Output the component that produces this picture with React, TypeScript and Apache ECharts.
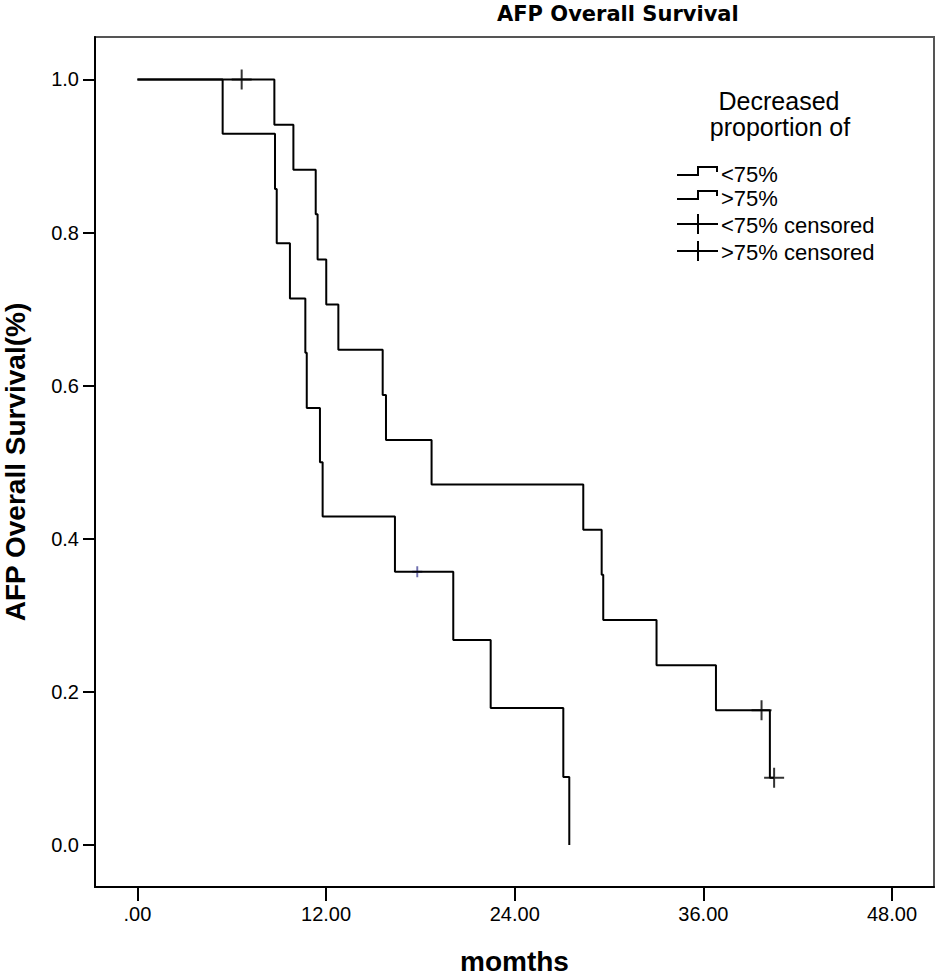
import React, { useEffect, useRef } from "react";
import * as echarts from "echarts";

// Kaplan-Meier curves
const lowerTimes = [0, 5.42, 8.75, 8.86, 9.7, 10.68, 10.77, 11.61, 11.78, 16.38, 20.09, 22.47, 27.09, 27.47];
const lowerSurv = [1, 0.929, 0.857, 0.786, 0.714, 0.643, 0.571, 0.5, 0.429, 0.357, 0.268, 0.179, 0.089, 0];

const upperTimes = [0, 8.71, 9.92, 11.34, 11.46, 12.01, 12.78, 15.6, 15.81, 18.71, 28.36, 29.53, 29.63, 33.02, 36.8, 40.23, 40.5];
const upperSurv = [1, 0.941, 0.882, 0.824, 0.765, 0.706, 0.647, 0.588, 0.529, 0.471, 0.412, 0.353, 0.294, 0.235, 0.176, 0.088, 0.088];

const upperCensorTimes = [6.63, 39.7, 40.5];
const upperCensorSurv = [1.0, 0.176, 0.088];
const lowerCensorTimes = [17.8];
const lowerCensorSurv = [0.357];

const xTicks = [0, 12, 24, 36, 48];
const yTicks = [0, 0.2, 0.4, 0.6, 0.8, 1.0];
const legendTitle = ["Decreased", "proportion of"];
const legendItems = ["<75%", ">75%", "<75% censored", ">75% censored"];

const zip = (a: number[], b: number[]) => a.map((v, i) => [v, b[i]]);

const PLUS = "path://M0 10L20 10M10 0L10 20";

export default function App() {
  const ref = useRef<HTMLDivElement>(null);
  useEffect(() => {
    if (!ref.current) return;
    const chart = echarts.init(ref.current, undefined, { renderer: "svg" });
    const legendText = {
      fontFamily: "Liberation Sans, Arial, sans-serif",
      fontSize: 22,
      fill: "#000",
    };
    const stepIcon = (y: number) => ({
      type: "polyline",
      shape: { points: [[677, y + 2], [698, y + 2], [698, y - 6], [717, y - 6], [717, y - 1]] },
      style: { stroke: "#000", lineWidth: 2, fill: null },
    });
    const censorIcon = (y: number) => ({
      type: "group",
      children: [
        { type: "line", shape: { x1: 677, y1: y, x2: 718, y2: y }, style: { stroke: "#000", lineWidth: 2 } },
        { type: "line", shape: { x1: 698, y1: y - 10, x2: 698, y2: y + 10 }, style: { stroke: "#000", lineWidth: 2 } },
      ],
    });
    const rowY = [173, 197, 224, 251];
    const graphics: any[] = [
      { type: "text", x: 779, y: 101, style: { ...legendText, text: legendTitle[0], fontSize: 25, textAlign: "center", textVerticalAlign: "middle" } },
      { type: "text", x: 780, y: 127, style: { ...legendText, text: legendTitle[1], fontSize: 25, textAlign: "center", textVerticalAlign: "middle" } },
      stepIcon(rowY[0]),
      stepIcon(rowY[1]),
      censorIcon(rowY[2]),
      censorIcon(rowY[3]),
      ...legendItems.map((t, i) => ({
        type: "text",
        x: 721,
        y: rowY[i] + 1,
        style: { ...legendText, text: t, textAlign: "left", textVerticalAlign: "middle" },
      })),
    ];
    chart.setOption({
      animation: false,
      backgroundColor: "#fff",
      title: {
        text: "AFP Overall Survival",
        left: 497,
        top: 3,
        padding: 0,
        textStyle: { fontFamily: "DejaVu Sans, Arial, sans-serif", fontWeight: "bold", fontSize: 21, color: "#000" },
      },
      grid: {
        left: 95,
        right: 11,
        top: 37,
        bottom: 91,
        outerBoundsMode: "none",
        containLabel: false,
        show: true,
        borderColor: "#555",
        borderWidth: 2,
        backgroundColor: "#fff",
      },
      xAxis: {
        type: "value",
        min: -2.7,
        max: 50.67,
        name: "momths",
        nameLocation: "middle",
        nameGap: 60,
        nameTextStyle: { fontFamily: "Liberation Sans, Arial, sans-serif", fontWeight: "bold", fontSize: 28, color: "#000" },
        axisLine: { show: true, onZero: false, lineStyle: { color: "#000", width: 2 } },
        axisTick: { show: true, length: 14, customValues: xTicks, lineStyle: { color: "#000", width: 2 } },
        axisLabel: {
          customValues: xTicks,
          margin: 17,
          fontFamily: "Liberation Sans, Arial, sans-serif",
          fontSize: 20,
          color: "#000",
          formatter: (v: number) => (v === 0 ? ".00" : v.toFixed(2)),
        },
        splitLine: { show: false },
      },
      yAxis: {
        type: "value",
        min: -0.0548,
        max: 1.0555,
        name: "AFP Overall Survival(%)",
        nameLocation: "middle",
        nameGap: 66,
        nameTextStyle: { fontFamily: "Liberation Sans, Arial, sans-serif", fontWeight: "bold", fontSize: 28, color: "#000" },
        axisLine: { show: true, onZero: false, lineStyle: { color: "#000", width: 2 } },
        axisTick: { show: true, length: 12, customValues: yTicks, lineStyle: { color: "#000", width: 2 } },
        axisLabel: {
          customValues: yTicks,
          margin: 16,
          fontFamily: "Liberation Sans, Arial, sans-serif",
          fontSize: 20,
          color: "#000",
          formatter: (v: number) => v.toFixed(1),
        },
        splitLine: { show: false },
      },
      series: [
        {
          name: "<75%",
          type: "line",
          step: "end",
          data: zip(upperTimes, upperSurv),
          symbol: "none",
          lineStyle: { color: "#000", width: 2 },
        },
        {
          name: ">75%",
          type: "line",
          step: "end",
          data: zip(lowerTimes, lowerSurv),
          symbol: "none",
          lineStyle: { color: "#000", width: 2 },
        },
        {
          name: "<75% censored",
          type: "scatter",
          data: zip(upperCensorTimes, upperCensorSurv),
          symbol: PLUS,
          symbolSize: [20, 20],
          itemStyle: { color: "transparent", borderColor: "#000", borderWidth: 2 },
        },
        {
          name: ">75% censored",
          type: "scatter",
          data: zip(lowerCensorTimes, lowerCensorSurv),
          symbol: PLUS,
          symbolSize: [10, 11],
          itemStyle: { color: "transparent", borderColor: "#4b4b9b", borderWidth: 2 },
        },
      ],
      graphic: graphics,
    });
    return () => chart.dispose();
  }, []);
  return (
    <div
      ref={ref}
      style={{ position: "fixed", left: 0, top: 0, width: 945, height: 978, background: "#fff" }}
    />
  );
}
